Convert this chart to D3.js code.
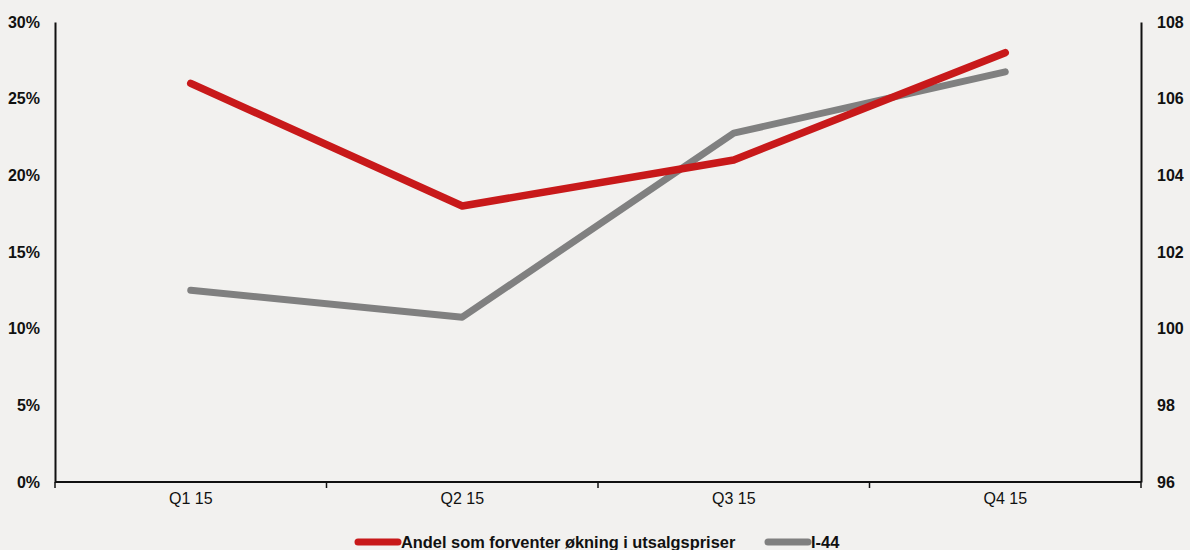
<!DOCTYPE html>
<html>
<head>
<meta charset="utf-8">
<script src="https://cdn.jsdelivr.net/npm/d3@7"></script>
<style>
  html, body { margin: 0; padding: 0; background: #f2f1ef; }
  svg { display: block; font-family: "Liberation Sans", Arial, sans-serif; }
</style>
</head>
<body>
<div id="chart"></div>
<script>
  // data
  var QUARTERS = ["Q1 15", "Q2 15", "Q3 15", "Q4 15"];
  var ANDEL = [0.26, 0.18, 0.21, 0.28];          // left axis, share
  var I44 = [101.0, 100.3, 105.1, 106.7];        // right axis, index
  var LEFT_TICKS = [0, 0.05, 0.10, 0.15, 0.20, 0.25, 0.30];
  var RIGHT_TICKS = [96, 98, 100, 102, 104, 106, 108];
  var SERIES_NAMES = ["Andel som forventer økning i utsalgspriser", "I-44"];

  var RED = "#c8191a", GREY = "#808080", INK = "#111";
  var W = 1190, H = 550, m = { l: 55, r: 49, t: 22, b: 68 };
  var iw = W - m.l - m.r, ih = H - m.t - m.b;

  var svg = d3.select("#chart").append("svg").attr("width", W).attr("height", H);
  svg.append("rect").attr("width", W).attr("height", H).attr("fill", "#f2f1ef");
  var g = svg.append("g").attr("transform", "translate(" + m.l + "," + m.t + ")");

  var x = d3.scaleBand().domain(QUARTERS).range([0, iw]).padding(0);
  var yL = d3.scaleLinear().domain([0, 0.30]).range([ih, 0]);
  var yR = d3.scaleLinear().domain([96, 108]).range([ih, 0]);

  // left axis
  var gl = g.append("g").call(d3.axisLeft(yL).tickValues(LEFT_TICKS).tickFormat(d3.format(".0%"))
    .tickSize(0).tickPadding(15));
  gl.select(".domain").attr("stroke", INK).attr("stroke-width", 2);
  gl.selectAll("text").attr("fill", INK).style("font-size", "16px").style("font-weight", "bold");

  // right axis
  var gr = g.append("g").attr("transform", "translate(" + iw + ",0)")
    .call(d3.axisRight(yR).tickValues(RIGHT_TICKS).tickSize(0).tickPadding(16));
  gr.select(".domain").attr("stroke", INK).attr("stroke-width", 2);
  gr.selectAll("text").attr("fill", INK).style("font-size", "16px").style("font-weight", "bold");

  // bottom axis: labels centred, tick marks at band edges
  var gb = g.append("g").attr("transform", "translate(0," + ih + ")")
    .call(d3.axisBottom(x).tickSize(0).tickPadding(11));
  gb.select(".domain").remove();
  gb.selectAll("text").attr("fill", INK).style("font-size", "16px");
  gb.append("line").attr("x1", 0).attr("x2", iw).attr("stroke", INK).attr("stroke-width", 2);
  var edges = QUARTERS.map(function (q) { return x(q); }).concat([iw]);
  gb.selectAll(".edge").data(edges).enter().append("line").attr("class", "edge")
    .attr("x1", function (d) { return d; }).attr("x2", function (d) { return d; })
    .attr("y1", 0).attr("y2", 6).attr("stroke", INK).attr("stroke-width", 1.5);

  function cx(q) { return x(q) + x.bandwidth() / 2; }

  // I-44 behind, share in front (red crosses over grey at the end)
  var lineR = d3.line().x(function (d, i) { return cx(QUARTERS[i]); }).y(function (d) { return yR(d); });
  var lineL = d3.line().x(function (d, i) { return cx(QUARTERS[i]); }).y(function (d) { return yL(d); });
  g.append("path").attr("d", lineR(I44)).attr("fill", "none").attr("stroke", GREY)
    .attr("stroke-width", 7).attr("stroke-linecap", "round").attr("stroke-linejoin", "round");
  g.append("path").attr("d", lineL(ANDEL)).attr("fill", "none").attr("stroke", RED)
    .attr("stroke-width", 7.5).attr("stroke-linecap", "round").attr("stroke-linejoin", "round");

  // legend
  var legend = [{ name: SERIES_NAMES[0], col: RED, x0: 358 }, { name: SERIES_NAMES[1], col: GREY, x0: 768 }];
  var lg = svg.append("g");
  legend.forEach(function (d) {
    lg.append("line").attr("x1", d.x0).attr("x2", d.x0 + 40).attr("y1", 542).attr("y2", 542)
      .attr("stroke", d.col).attr("stroke-width", 7).attr("stroke-linecap", "round");
    lg.append("text").attr("x", d.x0 + 43).attr("y", 548).attr("fill", INK)
      .style("font-size", "16.4px").style("font-weight", "bold").text(d.name);
  });
</script>
</body>
</html>
